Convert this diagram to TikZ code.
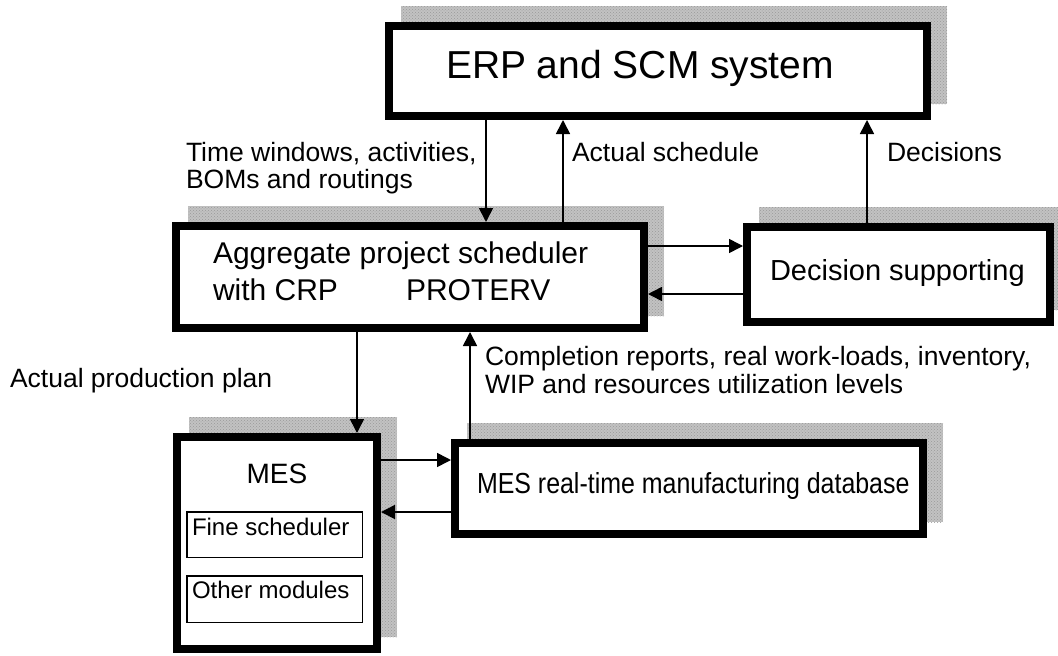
\documentclass[tikz,border=0pt]{standalone}
\usepackage{fontspec}
\setmainfont{Liberation Sans}
\usetikzlibrary{arrows.meta,backgrounds,patterns}

\tikzset{
  block/.style={draw=black, line width=8pt, fill=white, inner sep=0pt, outer sep=4pt},
  module/.style={draw=black, line width=1.5pt, fill=white, inner sep=0pt, outer sep=0.75pt},
  txt/.style={anchor=base west, inner sep=0pt, outer sep=0pt},
  lbl/.style={txt, font=\fontsize{26.5}{30}\selectfont},
  arr/.style={line width=1.6pt, -{Triangle[length=14pt,width=14pt]}},
  shade/.style={fill=black!24, postaction={pattern=crosshatch dots, pattern color=black!40}},
}

\begin{document}
\begin{tikzpicture}[x=1pt, y=-1pt]
\clip (0,0) rectangle (1058,656);

% main blocks
\node[block, minimum width=538pt, minimum height=90pt]  (erp) at (658,71)      {};
\node[block, minimum width=468pt, minimum height=102pt] (agg) at (410,277)     {};
\node[block, minimum width=303pt, minimum height=95pt]  (dec) at (898.5,274.5) {};
\node[block, minimum width=200pt, minimum height=212pt] (mes) at (277,543)     {};
\node[block, minimum width=468pt, minimum height=91pt]  (db)  at (689,488.5)   {};

% modules inside the MES block
\node[module, minimum width=175.5pt, minimum height=45.5pt] (fine)  at (274.5,534.5) {};
\node[module, minimum width=175.5pt, minimum height=46.5pt] (other) at (274.5,599)   {};

% offset shadows behind the blocks
\begin{scope}[on background layer]
  \fill[white] (0,0) rectangle (1058,656);
  \foreach \b in {erp,agg,dec,mes,db}
    \fill[shade] ([shift={(16pt,16pt)}]\b.south west) rectangle ([shift={(16pt,16pt)}]\b.north east);
\end{scope}

% block texts
\node[txt, font=\fontsize{39}{46}\selectfont] (erpT) at (446,78) {ERP and SCM system};
\node[txt, font=\fontsize{30}{36}\selectfont] (aggT1) at (213,263) {Aggregate project scheduler};
\node[txt, font=\fontsize{30}{36}\selectfont] (aggT2) at (213,300) {with CRP};
\node[txt, font=\fontsize{30}{36}\selectfont] (aggT3) at (406,300) {PROTERV};
\node[txt, font=\fontsize{29}{34}\selectfont] (decT) at (770,280) {Decision supporting};
\node[txt, font=\fontsize{29}{34}\selectfont] (dbT) at (477,493) {\scalebox{0.86}[1]{MES real-time manufacturing database}};
\node[anchor=base, inner sep=0pt, font=\fontsize{28}{33}\selectfont] (mesT) at (277,483) {MES};
\node[txt, font=\fontsize{24}{28}\selectfont] (fineT) at (192,535) {Fine scheduler};
\node[txt, font=\fontsize{24}{28}\selectfont] (otherT) at (192,598) {Other modules};

% connector labels
\node[lbl] (l1a) at (186,161) {Time windows, activities,};
\node[lbl] (l1b) at (186,188) {BOMs and routings};
\node[lbl] (l2)  at (572,161) {Actual schedule};
\node[lbl] (l3)  at (887,161) {Decisions};
\node[lbl] (l4)  at (10,387)  {Actual production plan};
\node[lbl] (l5a) at (485,365) {Completion reports, real work-loads, inventory,};
\node[lbl] (l5b) at (485,393) {WIP and resources utilization levels};

% information flows
\draw[arr] (erp.south -| 486,0) -- (agg.north -| 486,0);
\draw[arr] (agg.north -| 563,0) -- (erp.south -| 563,0);
\draw[arr] (dec.north -| 867,0) -- (erp.south -| 867,0);
\draw[arr] (agg.east |- 0,246) -- (dec.west |- 0,246);
\draw[arr] (dec.west |- 0,294) -- (agg.east |- 0,294);
\draw[arr] (agg.south -| 357,0) -- (mes.north -| 357,0);
\draw[arr] (db.north -| 470,0) -- (agg.south -| 470,0);
\draw[arr] (mes.east |- 0,460) -- (db.west |- 0,460);
\draw[arr] (db.west |- 0,512) -- (mes.east |- 0,512);
\end{tikzpicture}
\end{document}
